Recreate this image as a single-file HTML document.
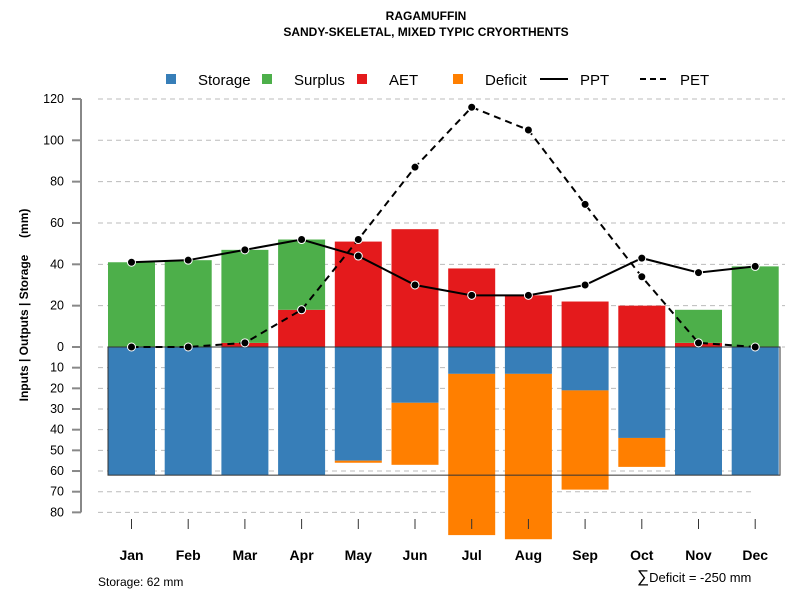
<!DOCTYPE html>
<html><head><meta charset="utf-8"><style>body{margin:0;background:#fff}svg{display:block;font-family:"Liberation Sans",sans-serif}</style></head>
<body>
<svg id="c" width="800" height="600">
<text x="426" y="20" text-anchor="middle" font-size="12" font-weight="bold">RAGAMUFFIN</text>
<text x="426" y="36" text-anchor="middle" font-size="12" font-weight="bold">SANDY-SKELETAL, MIXED TYPIC CRYORTHENTS</text>
<g font-size="15">
<rect x="166" y="74" width="10" height="10" fill="#377eb8"/><text x="198" y="85">Storage</text>
<rect x="262" y="74" width="10" height="10" fill="#4daf4a"/><text x="294" y="85">Surplus</text>
<rect x="357" y="74" width="10" height="10" fill="#e41a1c"/><text x="389" y="85">AET</text>
<rect x="453" y="74" width="10" height="10" fill="#ff7f00"/><text x="485" y="85">Deficit</text>
<line x1="540" y1="79" x2="568" y2="79" stroke="#000" stroke-width="2"/><text x="580" y="85">PPT</text>
<line x1="640" y1="79" x2="668" y2="79" stroke="#000" stroke-width="2" stroke-dasharray="6,4"/><text x="680" y="85">PET</text>
</g>
<text transform="translate(28,305) rotate(-90)" text-anchor="middle" font-size="12" font-weight="bold" style="white-space:pre">Inputs | Outputs | Storage     (mm)</text>
<text x="98" y="586" font-size="12">Storage: 62 mm</text>
<text x="637" y="582" font-size="13"><tspan font-size="17">∑</tspan>Deficit = -250 mm</text>
<g id="grid"></g><g id="bars"></g><g id="axes"></g><g id="lines"></g>
</svg>
<script>
const months=["Jan","Feb","Mar","Apr","May","Jun","Jul","Aug","Sep","Oct","Nov","Dec"];
const aet=[0,0,2,18,51,57,38,25,22,20,2,0];
const surplus=[41,42,45,34,0,0,0,0,0,0,16,39];
const storage=[62,62,62,62,55,27,13,13,21,44,62,62];
const deficit=[0,0,0,0,1,30,78,80,48,14,0,0];
const ppt=[41,42,47,52,44,30,25,25,30,43,36,39];
const pet=[0,0,2,18,52,87,116,105,69,34,2,0];
const upTicks=[0,20,40,60,80,100,120];
const downTicks=[10,20,30,40,50,60,70,80];
const storageCap=62;
const NS="http://www.w3.org/2000/svg";
const y0=347,k=2.067;
const yU=v=>y0-v*k, yD=v=>y0+v*k;
const xC=i=>131.5+i*56.7, bw=47;
function mk(p,t,a){const e=document.createElementNS(NS,t);for(const q in a)e.setAttribute(q,a[q]);p.appendChild(e);return e;}
const G=document.getElementById('grid'),B=document.getElementById('bars'),A=document.getElementById('axes'),L=document.getElementById('lines');
mk(A,'line',{x1:81,y1:yU(120),x2:81,y2:yD(80),stroke:'#888','stroke-width':2});
upTicks.forEach(v=>{
 const l=mk(G,'line',{x1:98,x2:785,y1:yU(v),y2:yU(v),stroke:'#bbb','stroke-dasharray':'5,4'});
 
 
 mk(A,'line',{x1:72,x2:81,y1:yU(v),y2:yU(v),stroke:'#888','stroke-width':2});
 const t=mk(A,'text',{x:64,y:yU(v)+4,'text-anchor':'end','font-size':12.5});t.textContent=v;
 
 
});
downTicks.forEach(v=>{
 const l=mk(G,'line',{x1:98,x2:755,y1:yD(v),y2:yD(v),stroke:'#bbb','stroke-dasharray':'5,4'});
 
 
 mk(A,'line',{x1:72,x2:81,y1:yD(v),y2:yD(v),stroke:'#888','stroke-width':2});
 const t=mk(A,'text',{x:64,y:yD(v)+4,'text-anchor':'end','font-size':12.5});t.textContent=v;
 
 
});
months.forEach((m,i)=>{
 const x=xC(i)-bw/2;
 function bar(yt,yb,c,n){if(yb-yt<=0)return;const r=mk(B,'rect',{x:x,y:yt,width:bw,height:yb-yt,fill:c});
  
  }
 bar(yU(aet[i]),yU(0),'#e41a1c','aet-bar');
 bar(yU(aet[i]+surplus[i]),yU(aet[i]),'#4daf4a','surplus-bar');
 bar(yD(0),yD(storage[i]),'#377eb8','storage-bar');
 bar(yD(storage[i]),yD(storage[i]+deficit[i]),'#ff7f00','deficit-bar');
 mk(A,'line',{x1:xC(i),x2:xC(i),y1:519,y2:529,stroke:'#333'});
 const t=mk(A,'text',{x:xC(i),y:560,'text-anchor':'middle','font-size':14,'font-weight':'bold'});t.textContent=m;
 
 
});
mk(A,'line',{x1:108,x2:780,y1:y0,y2:y0,stroke:'#000'});
mk(A,'rect',{x:108,y:y0,width:672,height:storageCap*k,fill:'none',stroke:'#333'});
function series(d,dash,n){
 const p=mk(L,'polyline',{points:d.map((v,i)=>xC(i)+','+yU(v)).join(' '),fill:'none',stroke:'#000','stroke-width':2,'stroke-dasharray':dash});
 
 
 d.forEach((v,i)=>{const c=mk(L,'circle',{cx:xC(i),cy:yU(v),r:4,fill:'#000',stroke:'#fff','stroke-width':1});
  
  });
}
series(pet,'7,5','pet');
series(ppt,'none','ppt');
</script>
</body></html>
